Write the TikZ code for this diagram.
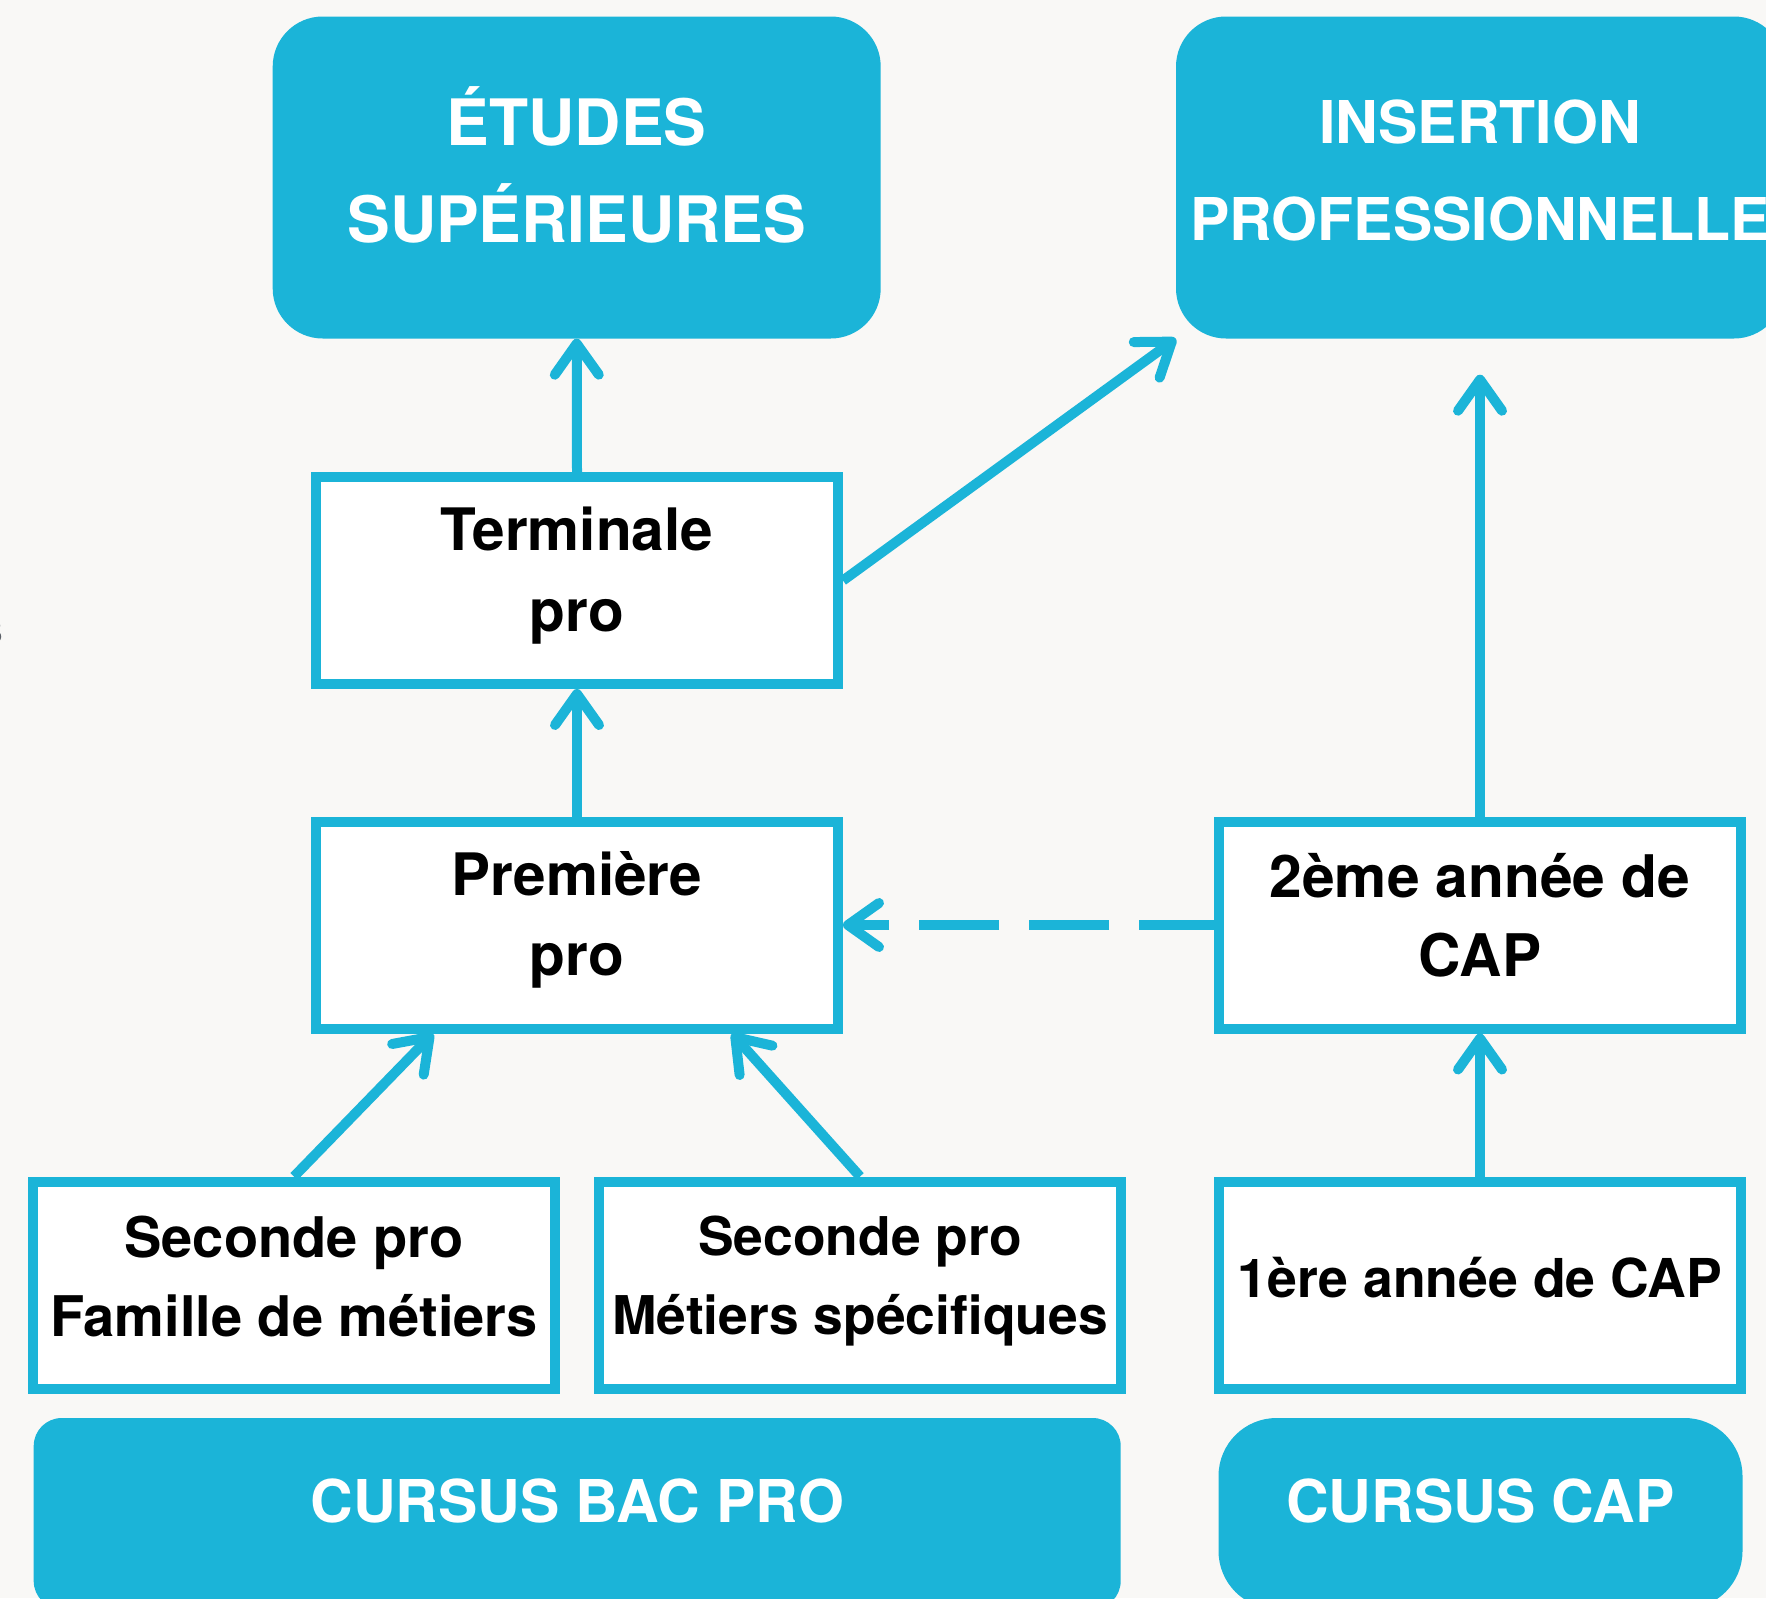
\documentclass[tikz,border=0pt]{standalone}
\usepackage{fontspec}
\setmainfont{TeX Gyre Heros}
\usetikzlibrary{arrows.meta}
\definecolor{cy}{RGB}{27,180,216}
\definecolor{bg}{RGB}{249,248,246}
\definecolor{gr}{RGB}{90,95,102}
\begin{document}
\begin{tikzpicture}[x=1pt,y=-1pt,
  head/.style={fill=cy, rounded corners=50pt, inner sep=0pt, minimum width=608pt, minimum height=322pt},
  headtxt/.style={text=white, font=\fontsize{59}{97}\selectfont\bfseries, align=center, inner sep=0pt},
  stage/.style={draw=cy, line width=10pt, fill=white, minimum width=522pt, minimum height=207pt, inner sep=0pt},
  stagetxt/.style={font=\fontsize{56}{79}\selectfont\bfseries, align=center, text=black, inner sep=0pt},
  conn/.style={draw=cy, line width=10pt, -{Straight Barb[length=31pt,width=44pt,round]}},
]
\useasboundingbox (0,0) rectangle (1766,1598);
\fill[bg] (0,0) rectangle (1766,1598);

% top targets
\node[head] (etudes) at (576.7,177.5) {};
\node[headtxt, font=\fontsize{64}{97}\selectfont\bfseries] (etudesT) at (576.7,165) {ÉTUDES\\SUPÉRIEURES};
\node[head] (insert) at (1480,177.5) {};
\node[headtxt] (insertT) at (1480,170) {INSERTION\\PROFESSIONNELLE};

% stage boxes
\node[stage] (term) at (577,580.5) {};
\node[stagetxt, font=\fontsize{58.5}{81}\selectfont\bfseries] (termT) at (577,575.5) {Terminale\\pro};
\node[stage] (prem) at (577,925) {};
\node[stagetxt, font=\fontsize{58.5}{80}\selectfont\bfseries] (premT) at (577,919.5) {Première\\pro};
\node[stage] (cap2) at (1480,925) {};
\node[stagetxt, font=\fontsize{58.7}{79}\selectfont\bfseries] (cap2T) at (1480,915) {2ème année de\\CAP};
\node[stage] (sec1) at (294,1285) {};
\node[stagetxt] (sec1T) at (294,1276) {Seconde pro\\Famille de métiers};
\node[stage] (sec2) at (860,1285) {};
\node[stagetxt, font=\fontsize{53.4}{79}\selectfont\bfseries] (sec2T) at (860,1281.5) {Seconde pro\\Métiers spécifiques};
\node[stage] (cap1) at (1480,1285) {};
\node[stagetxt, font=\fontsize{53.6}{79}\selectfont\bfseries] (cap1T) at (1480,1278) {1ère année de CAP};

% bottom banners
\node[fill=cy, rounded corners=28pt, inner sep=0pt, minimum width=1087pt, minimum height=191pt] (bacpro) at (577.2,1513.5) {};
\node[headtxt] (bacproT) at (577.2,1501) {CURSUS BAC PRO};
\node[fill=cy, rounded corners=58pt, inner sep=0pt, minimum width=524pt, minimum height=191pt] (cursuscap) at (1480.5,1513.5) {};
\node[headtxt] (cursuscapT) at (1480.5,1501) {CURSUS CAP};

% fragment at left edge
\node[text=gr, font=\fontsize{44}{44}\selectfont, inner sep=0pt, anchor=east] (frag) at (4,632) {s};

% connectors
\draw[conn] (term.north) -- (etudes.south);
\draw[conn] (term.east) -- (insert.south west);
\draw[conn, shorten >=36pt] (cap2.north) -- (insert.south);
\draw[conn] (prem.north) -- (term.south);
\draw[conn, dash pattern=on 80pt off 30pt, dash phase=5pt] (cap2.west) -- (prem.east);
\draw[conn] (sec1.north) -- ([xshift=-144pt]prem.south);
\draw[conn] (sec2.north) -- ([xshift=155pt]prem.south);
\draw[conn] (cap1.north) -- (cap2.south);
\end{tikzpicture}
\end{document}
